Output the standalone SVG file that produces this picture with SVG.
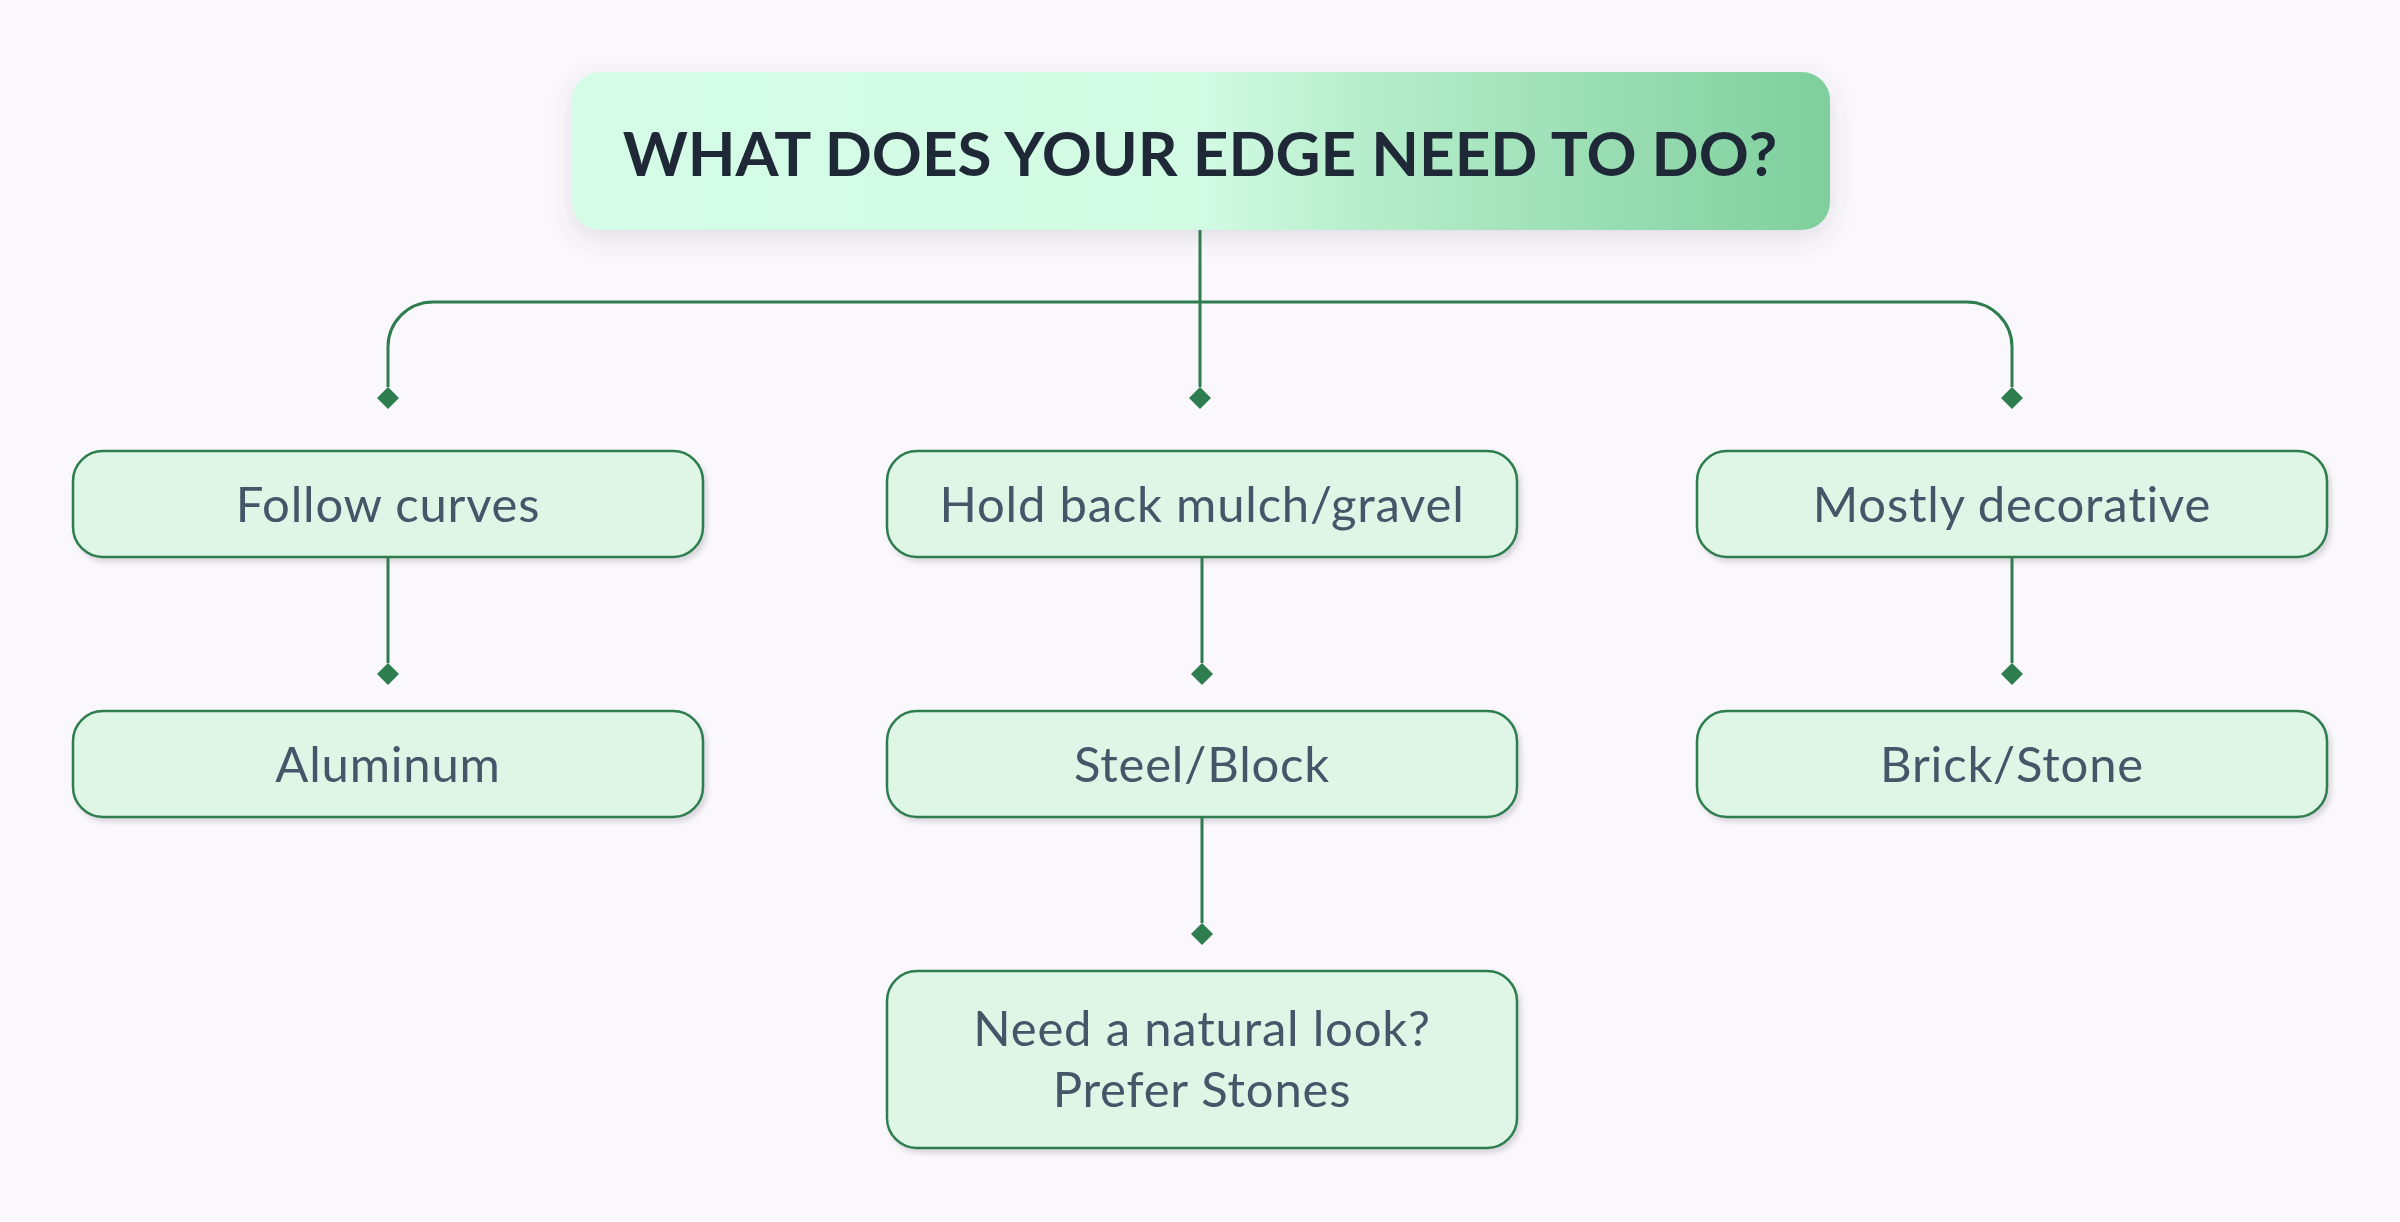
<svg xmlns="http://www.w3.org/2000/svg" width="2400" height="1222" viewBox="0 0 2400 1222">
<defs>
<linearGradient id="titleGrad" x1="0" y1="0" x2="1" y2="0">
<stop offset="0" stop-color="#d4fce6"/>
<stop offset="0.5" stop-color="#d2fbe4"/>
<stop offset="0.62" stop-color="#b8eecd"/>
<stop offset="1" stop-color="#7ecf9c"/>
</linearGradient>
<filter id="titleShadow" x="-10%" y="-40%" width="120%" height="190%">
<feGaussianBlur in="SourceAlpha" stdDeviation="12"/>
<feOffset dx="0" dy="8" result="b"/>
<feFlood flood-color="#5a5070" flood-opacity="0.16"/>
<feComposite in2="b" operator="in"/>
<feMerge><feMergeNode/><feMergeNode in="SourceGraphic"/></feMerge>
</filter>
<filter id="nodeShadow" x="-5%" y="-20%" width="110%" height="150%">
<feGaussianBlur in="SourceAlpha" stdDeviation="2.5"/>
<feOffset dx="3" dy="4" result="b"/>
<feFlood flood-color="#606070" flood-opacity="0.22"/>
<feComposite in2="b" operator="in"/>
<feMerge><feMergeNode/><feMergeNode in="SourceGraphic"/></feMerge>
</filter>
<marker id="diamond" viewBox="0 0 22 22" refX="0" refY="11" markerWidth="22" markerHeight="22" markerUnits="userSpaceOnUse" orient="auto">
<path d="M0 11 L11 0 L22 11 L11 22 Z" fill="#2e7d4e"/>
</marker>
</defs>
<style>
.node rect{fill:#dff6e7;stroke:#2e7d4e;stroke-width:2.5}
.node text{font-family:Lato,"Liberation Sans",sans-serif;font-size:49px;letter-spacing:0.8px;font-variant-ligatures:none;fill:#475569;text-anchor:middle}
.title text{font-family:Lato,"Liberation Sans",sans-serif;font-size:62px;font-weight:700;fill:#1e2836;text-anchor:middle}
.conn path{fill:none;stroke:#2e7d4e;stroke-width:3;marker-end:url(#diamond)}
</style>
<rect width="2400" height="1222" fill="#faf8fc"/>
<g id="connectors" class="conn">
<path d="M1200 230 V387"/>
<path d="M1200 302 H433 A45 45 0 0 0 388 347 V387"/>
<path d="M1200 302 H1967 A45 45 0 0 1 2012 347 V387"/>
<path d="M388 557 V663"/>
<path d="M1202 557 V663"/>
<path d="M1202 817 V923"/>
<path d="M2012 557 V663"/>
</g>
<g id="title" class="title">
<rect x="572" y="72" width="1258" height="158" rx="28" fill="url(#titleGrad)" filter="url(#titleShadow)"/>
<text x="1200" y="176">WHAT DOES YOUR EDGE NEED TO DO?</text>
</g>
<g id="node-follow-curves" class="node">
<rect x="73" y="451" width="630" height="106" rx="30" filter="url(#nodeShadow)"/>
<text x="388" y="522">Follow curves</text>
</g>
<g id="node-hold-back" class="node">
<rect x="887" y="451" width="630" height="106" rx="30" filter="url(#nodeShadow)"/>
<text x="1202" y="522">Hold back mulch/gravel</text>
</g>
<g id="node-decorative" class="node">
<rect x="1697" y="451" width="630" height="106" rx="30" filter="url(#nodeShadow)"/>
<text x="2012" y="522">Mostly decorative</text>
</g>
<g id="node-aluminum" class="node">
<rect x="73" y="711" width="630" height="106" rx="30" filter="url(#nodeShadow)"/>
<text x="388" y="782">Aluminum</text>
</g>
<g id="node-steel-block" class="node">
<rect x="887" y="711" width="630" height="106" rx="30" filter="url(#nodeShadow)"/>
<text x="1202" y="782">Steel/Block</text>
</g>
<g id="node-brick-stone" class="node">
<rect x="1697" y="711" width="630" height="106" rx="30" filter="url(#nodeShadow)"/>
<text x="2012" y="782">Brick/Stone</text>
</g>
<g id="node-natural-look" class="node">
<rect x="887" y="971" width="630" height="177" rx="30" filter="url(#nodeShadow)"/>
<text x="1202" y="1046">Need a natural look?</text>
<text x="1202" y="1107">Prefer Stones</text>
</g>
</svg>
